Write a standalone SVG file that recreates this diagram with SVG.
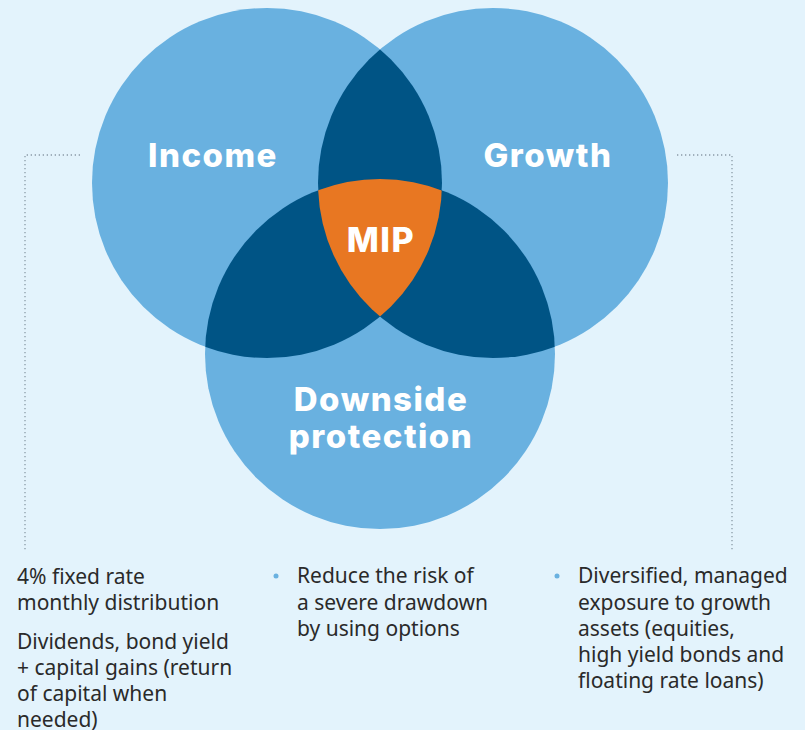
<svg xmlns="http://www.w3.org/2000/svg" width="805" height="730" viewBox="0 0 805 730">
<defs>
<style>
.light{fill:#69b1e0}
.dark{fill:#005485}
.mip{fill:#e87722}
.title{font-family:Inter,"Open Sans",sans-serif;font-weight:800;fill:#fff;text-anchor:middle;letter-spacing:1.5px}
.body{font-family:"Noto Sans","Open Sans",sans-serif;font-size:21px;fill:#2a2a2a}
.dots{fill:none;stroke:#8a9aa6;stroke-width:1.3;stroke-dasharray:1.3 2.7}
.bullet{fill:#69b1e0}
</style>
<clipPath id="cG"><circle cx="493" cy="183" r="175"/></clipPath>
<clipPath id="cD"><circle cx="380" cy="354" r="175"/></clipPath>
<clipPath id="cGD" clip-path="url(#cD)"><circle cx="493" cy="183" r="175"/></clipPath>
</defs>
<rect width="805" height="730" fill="#e3f3fc"/>
<g id="connectors">
<polyline class="dots" points="80,155 25,155 25,551"/>
<polyline class="dots" points="677,155 732,155 732,551"/>
</g>
<g id="income">
<circle class="light" cx="267" cy="183" r="175"/>
</g>
<g id="growth">
<circle class="light" cx="493" cy="183" r="175"/>
</g>
<g id="downside">
<circle class="light" cx="380" cy="354" r="175"/>
</g>
<g id="overlaps">
<circle class="dark" cx="267" cy="183" r="175" clip-path="url(#cG)"/>
<circle class="dark" cx="267" cy="183" r="175" clip-path="url(#cD)"/>
<circle class="dark" cx="493" cy="183" r="175" clip-path="url(#cD)"/>
</g>
<g id="mip">
<circle class="mip" cx="267" cy="183" r="175" clip-path="url(#cGD)"/>
<text class="title" x="381" y="252" font-size="34">MIP</text>
</g>
<g id="labels">
<text class="title" x="213" y="167" font-size="33">Income</text>
<text class="title" x="548" y="167" font-size="33">Growth</text>
<text class="title" x="381" y="411" font-size="33">Downside</text>
<text class="title" x="381" y="448" font-size="33">protection</text>
</g>
<g id="income-text">
<text class="body" x="17" y="584">4% fixed rate</text>
<text class="body" x="17" y="610">monthly distribution</text>
<text class="body" x="17" y="649">Dividends, bond yield</text>
<text class="body" x="17" y="675">+ capital gains (return</text>
<text class="body" x="17" y="701">of capital when</text>
<text class="body" x="17" y="727">needed)</text>
</g>
<g id="downside-text">
<circle class="bullet" cx="276" cy="576" r="2.5"/>
<text class="body" x="297" y="583">Reduce the risk of</text>
<text class="body" x="297" y="609.5">a severe drawdown</text>
<text class="body" x="297" y="636">by using options</text>
</g>
<g id="growth-text">
<circle class="bullet" cx="557" cy="576" r="2.5"/>
<text class="body" x="578" y="583">Diversified, managed</text>
<text class="body" x="578" y="609.5">exposure to growth</text>
<text class="body" x="578" y="636">assets (equities,</text>
<text class="body" x="578" y="662">high yield bonds and</text>
<text class="body" x="578" y="688">floating rate loans)</text>
</g>
</svg>
